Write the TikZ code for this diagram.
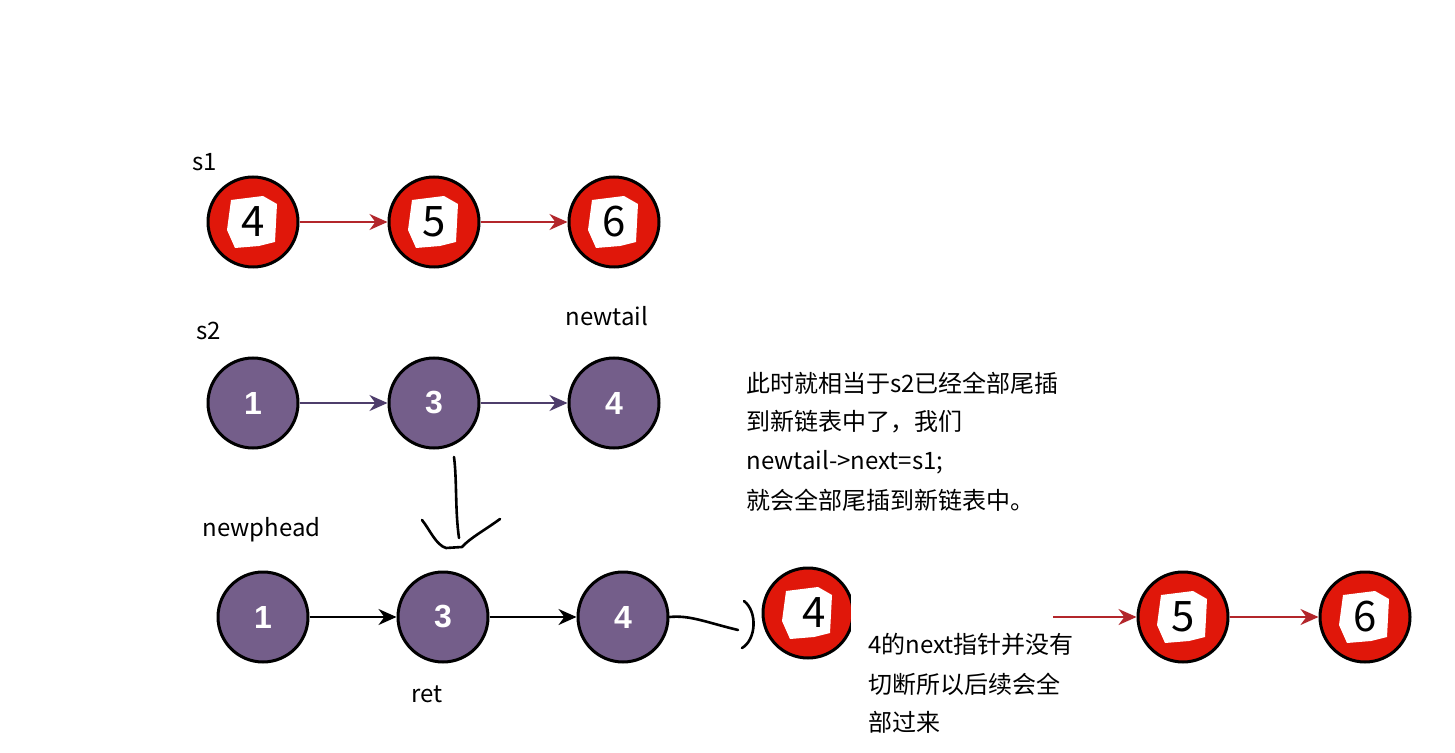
\documentclass[tikz,border=0pt]{standalone}
\usepackage{fontspec}
\setmainfont{Noto Sans CJK SC}
\newfontfamily\digitfont{Liberation Sans}
\usetikzlibrary{arrows.meta}
\definecolor{nodered}{HTML}{E0170A}
\definecolor{nodepurple}{HTML}{745E8A}
\definecolor{arrred}{HTML}{B3262B}
\definecolor{arrpurple}{HTML}{4E3D6B}
\tikzset{
  rednode/.style={circle, fill=nodered, draw=black, line width=1.5pt, minimum size=45pt, inner sep=0pt},
  purplenode/.style={circle, fill=nodepurple, draw=black, line width=1.5pt, minimum size=45pt, inner sep=0pt,
    font=\digitfont\bfseries\fontsize{16}{18}\selectfont, text=white},
  hwdigit/.style={font=\fontsize{21}{22}\selectfont, text=black, inner sep=0pt},
  lbl/.style={font=\fontsize{12}{14}\selectfont, inner sep=0pt, anchor=west},
  redarrow/.style={draw=arrred, line width=1.1pt, -{Stealth[length=9pt,width=8pt]}},
  purplearrow/.style={draw=arrpurple, line width=1.1pt, -{Stealth[length=9pt,width=8pt]}},
  blackarrow/.style={draw=black, line width=1.1pt, -{Stealth[length=9pt,width=8pt]}},
  hand/.style={draw=black, line width=1.3pt, line cap=round, line join=round},
}
\newcommand{\hwpatch}[1]{%
  \fill[white] ([shift={(-22,-22)}]#1.center) -- ([shift={(10,-26)}]#1.center) -- ([shift={(24,-18)}]#1.center)
    -- ([shift={(22,20)}]#1.center) -- ([shift={(6,24)}]#1.center) -- ([shift={(-18,26)}]#1.center)
    -- ([shift={(-26,8)}]#1.center) -- cycle;}
\begin{document}
\begin{tikzpicture}[x=0.5pt,y=-0.5pt]
\useasboundingbox (0,0) rectangle (1455,753);
\fill[white] (0,0) rectangle (1455,753);

% s1 row
\node[rednode] (a4) at (253,222) {};
\node[rednode] (a5) at (434,222) {};
\node[rednode] (a6) at (614,222) {};
\hwpatch{a4}\hwpatch{a5}\hwpatch{a6}
\node[hwdigit] (a4d) at (a4) {4};
\node[hwdigit] (a5d) at (a5) {5};
\node[hwdigit] (a6d) at (a6) {6};
\draw[redarrow] (a4) -- (a5);
\draw[redarrow] (a5) -- (a6);
\node[lbl] (s1) at (192,162) {s1};

% s2 row
\node[purplenode] (b1) at (253,403) {1};
\node[purplenode] (b3) at (434,403) {3};
\node[purplenode] (b4) at (614,403) {4};
\draw[purplearrow] (b1) -- (b3);
\draw[purplearrow] (b3) -- (b4);
\node[lbl] (s2) at (196,331) {s2};
\node[lbl] (newtail) at (565,316) {newtail};

% explanation text
\node[lbl] (t1) at (746,383) {此时就相当于s2已经全部尾插};
\node[lbl] (t2) at (746,422) {到新链表中了，我们};
\node[lbl] (t3) at (746,462) {newtail->next=s1;};
\node[lbl] (t4) at (746,500) {就会全部尾插到新链表中。};

% hand-drawn down arrow
\coordinate (d1) at (454,457);
\coordinate (d2) at (459,538);
\draw[hand] (d1) .. controls (457,480) and (455,510) .. (d2);
\draw[hand] (422,520) .. controls (430,530) and (436,545) .. (446,548) -- (462,547) .. controls (470,538) and (485,530) .. (500,519);

% bottom row
\node[lbl] (newphead) at (202,530) {newphead};
\node[purplenode] (c1) at (263,617) {1};
\node[purplenode] (c3) at (443,617) {3};
\node[purplenode] (c4) at (623,617) {4};
\draw[blackarrow] (c1) -- (c3);
\draw[blackarrow] (c3) -- (c4);
\node[lbl] (ret) at (411,694) {ret};

\node[rednode] (e4) at (808,613) {};
\hwpatch{e4}
\node[hwdigit] (e4d) at (814,613) {4};
\fill[white] (851,570) rectangle (1052,708);

\draw[hand] (c4.east) .. controls (690,615) and (705,622) .. (738,630);
\draw[hand] (744,601) .. controls (758,612) and (756,640) .. (742,648);

\node[lbl] (u1) at (868,644) {4的next指针并没有};
\node[lbl] (u2) at (868,684) {切断所以后续会全};
\node[lbl] (u3) at (868,722) {部过来};

\node[rednode] (f5) at (1183,617) {};
\node[rednode] (f6) at (1365,617) {};
\hwpatch{f5}\hwpatch{f6}
\node[hwdigit] (f5d) at (f5) {5};
\node[hwdigit] (f6d) at (f6) {6};
\coordinate (fstart) at (1053,617);
\draw[redarrow] (fstart) -- (f5);
\draw[redarrow] (f5) -- (f6);
\end{tikzpicture}
\end{document}
